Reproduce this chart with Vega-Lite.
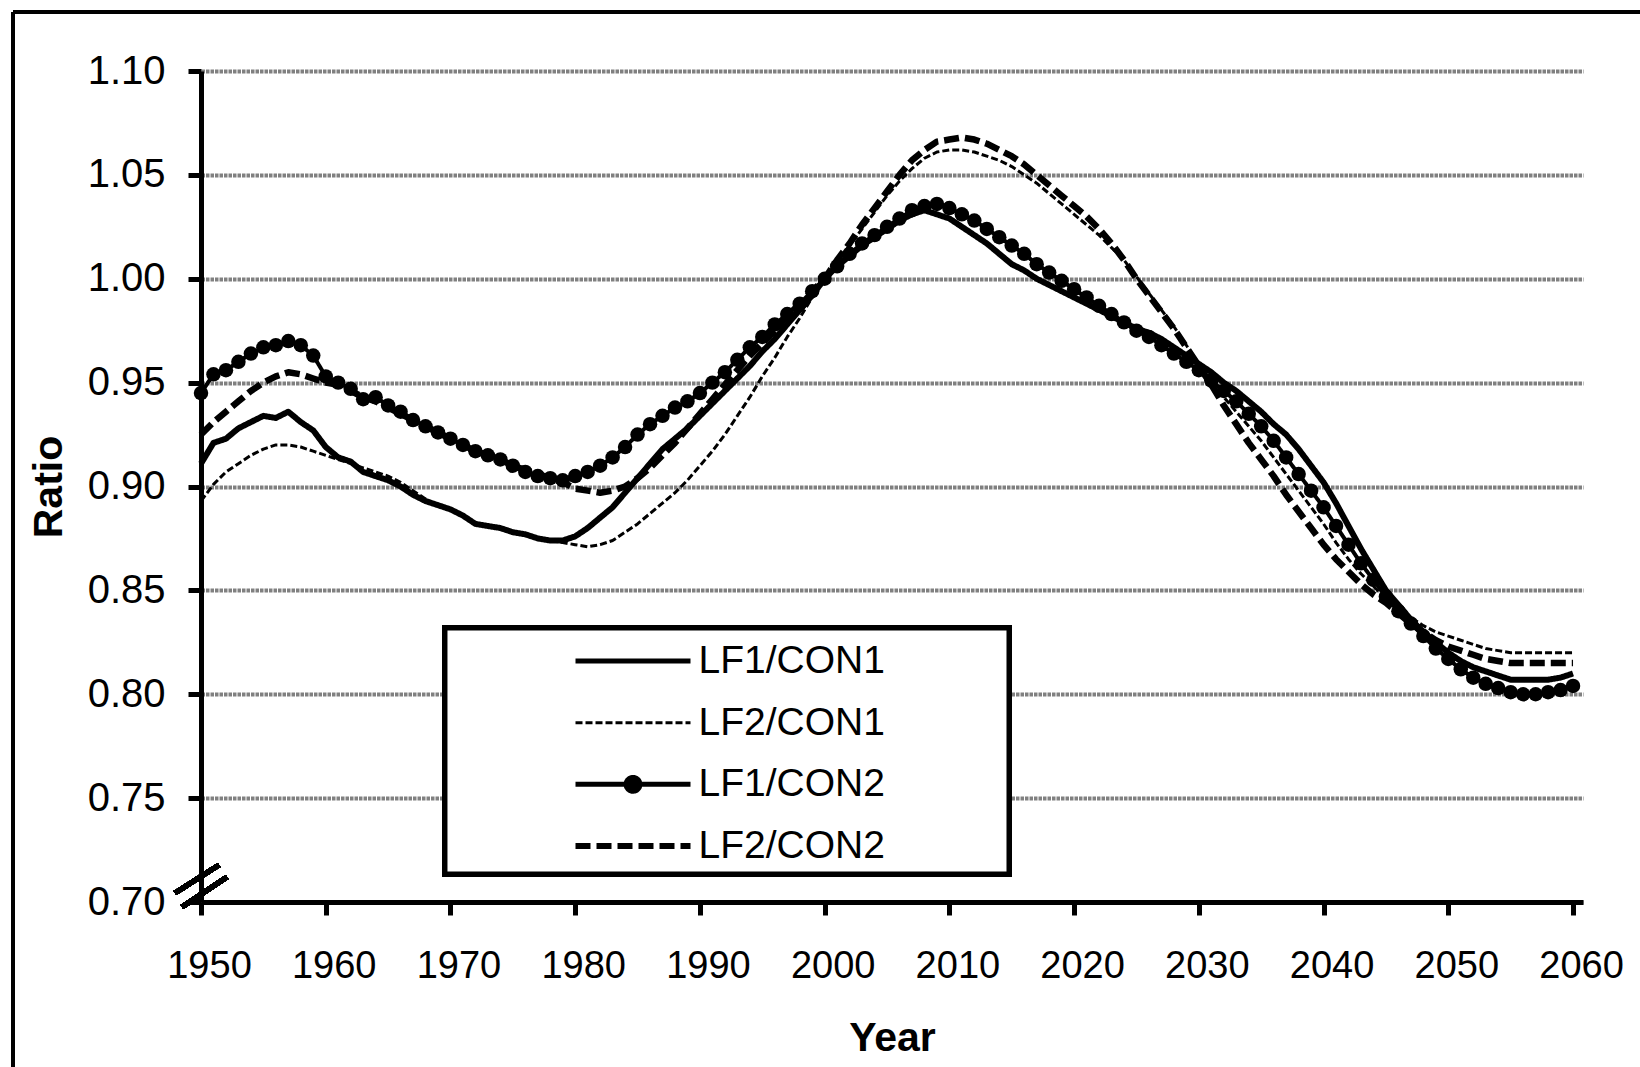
{
  "$schema": "https://vega.github.io/schema/vega-lite/v6.json",
  "width": 1382,
  "height": 831,
  "autosize": {"type": "none"},
  "padding": {"left": 201, "top": 71, "right": 57, "bottom": 165},
  "background": "white",
  "config": {
    "font": "Liberation Sans",
    "view": {"stroke": null},
    "axis": {
      "labelFont": "Liberation Sans",
      "labelColor": "black",
      "labelFontSize": 38,
      "titleFont": "Liberation Sans",
      "titleColor": "black",
      "titleFontSize": 41,
      "titleFontWeight": "bold",
      "domainColor": "black",
      "domainWidth": 5,
      "tickColor": "black",
      "tickWidth": 5,
      "tickSize": 13
    }
  },
  "data": {
    "values": [
      {"year": 1950, "LF1/CON1": 0.911, "LF2/CON1": 0.893, "LF1/CON2": 0.945, "LF2/CON2": 0.925},
      {"year": 1951, "LF1/CON1": 0.921, "LF2/CON1": 0.901, "LF1/CON2": 0.954, "LF2/CON2": 0.931},
      {"year": 1952, "LF1/CON1": 0.923, "LF2/CON1": 0.907, "LF1/CON2": 0.956, "LF2/CON2": 0.936},
      {"year": 1953, "LF1/CON1": 0.928, "LF2/CON1": 0.911, "LF1/CON2": 0.960, "LF2/CON2": 0.941},
      {"year": 1954, "LF1/CON1": 0.931, "LF2/CON1": 0.915, "LF1/CON2": 0.964, "LF2/CON2": 0.946},
      {"year": 1955, "LF1/CON1": 0.934, "LF2/CON1": 0.918, "LF1/CON2": 0.967, "LF2/CON2": 0.950},
      {"year": 1956, "LF1/CON1": 0.933, "LF2/CON1": 0.920, "LF1/CON2": 0.968, "LF2/CON2": 0.953},
      {"year": 1957, "LF1/CON1": 0.936, "LF2/CON1": 0.920, "LF1/CON2": 0.970, "LF2/CON2": 0.955},
      {"year": 1958, "LF1/CON1": 0.931, "LF2/CON1": 0.919, "LF1/CON2": 0.968, "LF2/CON2": 0.954},
      {"year": 1959, "LF1/CON1": 0.927, "LF2/CON1": 0.917, "LF1/CON2": 0.963, "LF2/CON2": 0.952},
      {"year": 1960, "LF1/CON1": 0.919, "LF2/CON1": 0.915, "LF1/CON2": 0.953, "LF2/CON2": 0.950},
      {"year": 1961, "LF1/CON1": 0.914, "LF2/CON1": 0.913, "LF1/CON2": 0.950, "LF2/CON2": 0.949},
      {"year": 1962, "LF1/CON1": 0.912, "LF2/CON1": 0.911, "LF1/CON2": 0.947, "LF2/CON2": 0.946},
      {"year": 1963, "LF1/CON1": 0.907, "LF2/CON1": 0.909, "LF1/CON2": 0.942, "LF2/CON2": 0.943},
      {"year": 1964, "LF1/CON1": 0.905, "LF2/CON1": 0.907, "LF1/CON2": 0.943, "LF2/CON2": 0.941},
      {"year": 1965, "LF1/CON1": 0.903, "LF2/CON1": 0.905, "LF1/CON2": 0.939, "LF2/CON2": 0.938},
      {"year": 1966, "LF1/CON1": 0.900, "LF2/CON1": 0.902, "LF1/CON2": 0.936, "LF2/CON2": 0.935},
      {"year": 1967, "LF1/CON1": 0.896, "LF2/CON1": 0.898, "LF1/CON2": 0.932, "LF2/CON2": 0.932},
      {"year": 1968, "LF1/CON1": 0.893, "LF2/CON1": 0.894, "LF1/CON2": 0.929, "LF2/CON2": 0.929},
      {"year": 1969, "LF1/CON1": 0.891, "LF2/CON1": 0.891, "LF1/CON2": 0.926, "LF2/CON2": 0.926},
      {"year": 1970, "LF1/CON1": 0.889, "LF2/CON1": 0.889, "LF1/CON2": 0.923, "LF2/CON2": 0.923},
      {"year": 1971, "LF1/CON1": 0.886, "LF2/CON1": 0.886, "LF1/CON2": 0.920, "LF2/CON2": 0.920},
      {"year": 1972, "LF1/CON1": 0.882, "LF2/CON1": 0.882, "LF1/CON2": 0.917, "LF2/CON2": 0.917},
      {"year": 1973, "LF1/CON1": 0.881, "LF2/CON1": 0.881, "LF1/CON2": 0.915, "LF2/CON2": 0.915},
      {"year": 1974, "LF1/CON1": 0.880, "LF2/CON1": 0.880, "LF1/CON2": 0.913, "LF2/CON2": 0.913},
      {"year": 1975, "LF1/CON1": 0.878, "LF2/CON1": 0.878, "LF1/CON2": 0.910, "LF2/CON2": 0.910},
      {"year": 1976, "LF1/CON1": 0.877, "LF2/CON1": 0.877, "LF1/CON2": 0.907, "LF2/CON2": 0.908},
      {"year": 1977, "LF1/CON1": 0.875, "LF2/CON1": 0.875, "LF1/CON2": 0.905, "LF2/CON2": 0.906},
      {"year": 1978, "LF1/CON1": 0.874, "LF2/CON1": 0.874, "LF1/CON2": 0.904, "LF2/CON2": 0.904},
      {"year": 1979, "LF1/CON1": 0.874, "LF2/CON1": 0.873, "LF1/CON2": 0.903, "LF2/CON2": 0.902},
      {"year": 1980, "LF1/CON1": 0.876, "LF2/CON1": 0.872, "LF1/CON2": 0.905, "LF2/CON2": 0.899},
      {"year": 1981, "LF1/CON1": 0.880, "LF2/CON1": 0.871, "LF1/CON2": 0.907, "LF2/CON2": 0.898},
      {"year": 1982, "LF1/CON1": 0.885, "LF2/CON1": 0.872, "LF1/CON2": 0.910, "LF2/CON2": 0.897},
      {"year": 1983, "LF1/CON1": 0.890, "LF2/CON1": 0.874, "LF1/CON2": 0.914, "LF2/CON2": 0.898},
      {"year": 1984, "LF1/CON1": 0.897, "LF2/CON1": 0.878, "LF1/CON2": 0.919, "LF2/CON2": 0.900},
      {"year": 1985, "LF1/CON1": 0.904, "LF2/CON1": 0.882, "LF1/CON2": 0.925, "LF2/CON2": 0.904},
      {"year": 1986, "LF1/CON1": 0.911, "LF2/CON1": 0.887, "LF1/CON2": 0.930, "LF2/CON2": 0.909},
      {"year": 1987, "LF1/CON1": 0.918, "LF2/CON1": 0.892, "LF1/CON2": 0.934, "LF2/CON2": 0.915},
      {"year": 1988, "LF1/CON1": 0.923, "LF2/CON1": 0.897, "LF1/CON2": 0.938, "LF2/CON2": 0.921},
      {"year": 1989, "LF1/CON1": 0.928, "LF2/CON1": 0.903, "LF1/CON2": 0.941, "LF2/CON2": 0.928},
      {"year": 1990, "LF1/CON1": 0.934, "LF2/CON1": 0.910, "LF1/CON2": 0.945, "LF2/CON2": 0.935},
      {"year": 1991, "LF1/CON1": 0.940, "LF2/CON1": 0.917, "LF1/CON2": 0.950, "LF2/CON2": 0.942},
      {"year": 1992, "LF1/CON1": 0.946, "LF2/CON1": 0.925, "LF1/CON2": 0.955, "LF2/CON2": 0.949},
      {"year": 1993, "LF1/CON1": 0.952, "LF2/CON1": 0.934, "LF1/CON2": 0.961, "LF2/CON2": 0.956},
      {"year": 1994, "LF1/CON1": 0.958, "LF2/CON1": 0.943, "LF1/CON2": 0.967, "LF2/CON2": 0.963},
      {"year": 1995, "LF1/CON1": 0.965, "LF2/CON1": 0.953, "LF1/CON2": 0.972, "LF2/CON2": 0.969},
      {"year": 1996, "LF1/CON1": 0.971, "LF2/CON1": 0.962, "LF1/CON2": 0.978, "LF2/CON2": 0.975},
      {"year": 1997, "LF1/CON1": 0.978, "LF2/CON1": 0.972, "LF1/CON2": 0.983, "LF2/CON2": 0.982},
      {"year": 1998, "LF1/CON1": 0.985, "LF2/CON1": 0.981, "LF1/CON2": 0.988, "LF2/CON2": 0.988},
      {"year": 1999, "LF1/CON1": 0.992, "LF2/CON1": 0.991, "LF1/CON2": 0.994, "LF2/CON2": 0.994},
      {"year": 2000, "LF1/CON1": 1.000, "LF2/CON1": 1.000, "LF1/CON2": 1.000, "LF2/CON2": 1.000},
      {"year": 2001, "LF1/CON1": 1.006, "LF2/CON1": 1.008, "LF1/CON2": 1.006, "LF2/CON2": 1.009},
      {"year": 2002, "LF1/CON1": 1.011, "LF2/CON1": 1.016, "LF1/CON2": 1.012, "LF2/CON2": 1.017},
      {"year": 2003, "LF1/CON1": 1.016, "LF2/CON1": 1.024, "LF1/CON2": 1.017, "LF2/CON2": 1.026},
      {"year": 2004, "LF1/CON1": 1.020, "LF2/CON1": 1.032, "LF1/CON2": 1.021, "LF2/CON2": 1.034},
      {"year": 2005, "LF1/CON1": 1.024, "LF2/CON1": 1.040, "LF1/CON2": 1.025, "LF2/CON2": 1.042},
      {"year": 2006, "LF1/CON1": 1.028, "LF2/CON1": 1.047, "LF1/CON2": 1.029, "LF2/CON2": 1.050},
      {"year": 2007, "LF1/CON1": 1.031, "LF2/CON1": 1.053, "LF1/CON2": 1.033, "LF2/CON2": 1.057},
      {"year": 2008, "LF1/CON1": 1.033, "LF2/CON1": 1.058, "LF1/CON2": 1.035, "LF2/CON2": 1.062},
      {"year": 2009, "LF1/CON1": 1.031, "LF2/CON1": 1.061, "LF1/CON2": 1.036, "LF2/CON2": 1.066},
      {"year": 2010, "LF1/CON1": 1.029, "LF2/CON1": 1.062, "LF1/CON2": 1.034, "LF2/CON2": 1.067},
      {"year": 2011, "LF1/CON1": 1.025, "LF2/CON1": 1.062, "LF1/CON2": 1.031, "LF2/CON2": 1.068},
      {"year": 2012, "LF1/CON1": 1.021, "LF2/CON1": 1.061, "LF1/CON2": 1.028, "LF2/CON2": 1.067},
      {"year": 2013, "LF1/CON1": 1.017, "LF2/CON1": 1.059, "LF1/CON2": 1.024, "LF2/CON2": 1.065},
      {"year": 2014, "LF1/CON1": 1.012, "LF2/CON1": 1.057, "LF1/CON2": 1.020, "LF2/CON2": 1.062},
      {"year": 2015, "LF1/CON1": 1.007, "LF2/CON1": 1.054, "LF1/CON2": 1.016, "LF2/CON2": 1.059},
      {"year": 2016, "LF1/CON1": 1.004, "LF2/CON1": 1.050, "LF1/CON2": 1.012, "LF2/CON2": 1.055},
      {"year": 2017, "LF1/CON1": 1.000, "LF2/CON1": 1.046, "LF1/CON2": 1.007, "LF2/CON2": 1.050},
      {"year": 2018, "LF1/CON1": 0.997, "LF2/CON1": 1.041, "LF1/CON2": 1.003, "LF2/CON2": 1.045},
      {"year": 2019, "LF1/CON1": 0.994, "LF2/CON1": 1.036, "LF1/CON2": 0.999, "LF2/CON2": 1.040},
      {"year": 2020, "LF1/CON1": 0.991, "LF2/CON1": 1.031, "LF1/CON2": 0.995, "LF2/CON2": 1.035},
      {"year": 2021, "LF1/CON1": 0.988, "LF2/CON1": 1.026, "LF1/CON2": 0.991, "LF2/CON2": 1.030},
      {"year": 2022, "LF1/CON1": 0.985, "LF2/CON1": 1.021, "LF1/CON2": 0.987, "LF2/CON2": 1.024},
      {"year": 2023, "LF1/CON1": 0.982, "LF2/CON1": 1.015, "LF1/CON2": 0.983, "LF2/CON2": 1.017},
      {"year": 2024, "LF1/CON1": 0.979, "LF2/CON1": 1.009, "LF1/CON2": 0.979, "LF2/CON2": 1.009},
      {"year": 2025, "LF1/CON1": 0.976, "LF2/CON1": 1.001, "LF1/CON2": 0.975, "LF2/CON2": 1.000},
      {"year": 2026, "LF1/CON1": 0.974, "LF2/CON1": 0.993, "LF1/CON2": 0.972, "LF2/CON2": 0.992},
      {"year": 2027, "LF1/CON1": 0.971, "LF2/CON1": 0.985, "LF1/CON2": 0.968, "LF2/CON2": 0.984},
      {"year": 2028, "LF1/CON1": 0.967, "LF2/CON1": 0.977, "LF1/CON2": 0.964, "LF2/CON2": 0.976},
      {"year": 2029, "LF1/CON1": 0.963, "LF2/CON1": 0.968, "LF1/CON2": 0.960, "LF2/CON2": 0.967},
      {"year": 2030, "LF1/CON1": 0.959, "LF2/CON1": 0.959, "LF1/CON2": 0.956, "LF2/CON2": 0.958},
      {"year": 2031, "LF1/CON1": 0.955, "LF2/CON1": 0.951, "LF1/CON2": 0.951, "LF2/CON2": 0.949},
      {"year": 2032, "LF1/CON1": 0.950, "LF2/CON1": 0.943, "LF1/CON2": 0.946, "LF2/CON2": 0.939},
      {"year": 2033, "LF1/CON1": 0.946, "LF2/CON1": 0.936, "LF1/CON2": 0.941, "LF2/CON2": 0.930},
      {"year": 2034, "LF1/CON1": 0.941, "LF2/CON1": 0.929, "LF1/CON2": 0.935, "LF2/CON2": 0.921},
      {"year": 2035, "LF1/CON1": 0.936, "LF2/CON1": 0.922, "LF1/CON2": 0.929, "LF2/CON2": 0.913},
      {"year": 2036, "LF1/CON1": 0.930, "LF2/CON1": 0.914, "LF1/CON2": 0.922, "LF2/CON2": 0.905},
      {"year": 2037, "LF1/CON1": 0.925, "LF2/CON1": 0.906, "LF1/CON2": 0.914, "LF2/CON2": 0.896},
      {"year": 2038, "LF1/CON1": 0.918, "LF2/CON1": 0.898, "LF1/CON2": 0.906, "LF2/CON2": 0.888},
      {"year": 2039, "LF1/CON1": 0.910, "LF2/CON1": 0.890, "LF1/CON2": 0.898, "LF2/CON2": 0.880},
      {"year": 2040, "LF1/CON1": 0.902, "LF2/CON1": 0.882, "LF1/CON2": 0.890, "LF2/CON2": 0.872},
      {"year": 2041, "LF1/CON1": 0.892, "LF2/CON1": 0.873, "LF1/CON2": 0.881, "LF2/CON2": 0.865},
      {"year": 2042, "LF1/CON1": 0.881, "LF2/CON1": 0.865, "LF1/CON2": 0.872, "LF2/CON2": 0.859},
      {"year": 2043, "LF1/CON1": 0.870, "LF2/CON1": 0.858, "LF1/CON2": 0.863, "LF2/CON2": 0.853},
      {"year": 2044, "LF1/CON1": 0.860, "LF2/CON1": 0.852, "LF1/CON2": 0.855, "LF2/CON2": 0.848},
      {"year": 2045, "LF1/CON1": 0.850, "LF2/CON1": 0.846, "LF1/CON2": 0.847, "LF2/CON2": 0.844},
      {"year": 2046, "LF1/CON1": 0.843, "LF2/CON1": 0.841, "LF1/CON2": 0.840, "LF2/CON2": 0.839},
      {"year": 2047, "LF1/CON1": 0.836, "LF2/CON1": 0.837, "LF1/CON2": 0.834, "LF2/CON2": 0.834},
      {"year": 2048, "LF1/CON1": 0.830, "LF2/CON1": 0.833, "LF1/CON2": 0.828, "LF2/CON2": 0.830},
      {"year": 2049, "LF1/CON1": 0.825, "LF2/CON1": 0.830, "LF1/CON2": 0.822, "LF2/CON2": 0.826},
      {"year": 2050, "LF1/CON1": 0.820, "LF2/CON1": 0.828, "LF1/CON2": 0.817, "LF2/CON2": 0.823},
      {"year": 2051, "LF1/CON1": 0.816, "LF2/CON1": 0.826, "LF1/CON2": 0.812, "LF2/CON2": 0.821},
      {"year": 2052, "LF1/CON1": 0.813, "LF2/CON1": 0.824, "LF1/CON2": 0.808, "LF2/CON2": 0.819},
      {"year": 2053, "LF1/CON1": 0.811, "LF2/CON1": 0.822, "LF1/CON2": 0.805, "LF2/CON2": 0.817},
      {"year": 2054, "LF1/CON1": 0.809, "LF2/CON1": 0.821, "LF1/CON2": 0.803, "LF2/CON2": 0.816},
      {"year": 2055, "LF1/CON1": 0.807, "LF2/CON1": 0.820, "LF1/CON2": 0.801, "LF2/CON2": 0.815},
      {"year": 2056, "LF1/CON1": 0.807, "LF2/CON1": 0.820, "LF1/CON2": 0.800, "LF2/CON2": 0.815},
      {"year": 2057, "LF1/CON1": 0.807, "LF2/CON1": 0.820, "LF1/CON2": 0.800, "LF2/CON2": 0.815},
      {"year": 2058, "LF1/CON1": 0.807, "LF2/CON1": 0.820, "LF1/CON2": 0.801, "LF2/CON2": 0.815},
      {"year": 2059, "LF1/CON1": 0.808, "LF2/CON1": 0.820, "LF1/CON2": 0.802, "LF2/CON2": 0.815},
      {"year": 2060, "LF1/CON1": 0.810, "LF2/CON1": 0.820, "LF1/CON2": 0.804, "LF2/CON2": 0.815}
    ]
  },
  "layer": [
    {
      "mark": {"type": "rule", "color": "black", "strokeWidth": 3.5},
      "encoding": {
        "x": {"datum": 1934.93, "type": "quantitative"},
        "y": {"datum": 1.1284, "type": "quantitative"},
        "y2": {"datum": 0.5}
      }
    },
    {
      "mark": {"type": "rule", "color": "black", "strokeWidth": 3.5},
      "encoding": {
        "x": {"datum": 1934.93, "type": "quantitative"},
        "x2": {"datum": 2090},
        "y": {"datum": 1.1284, "type": "quantitative"}
      }
    },
    {
      "mark": {"type": "rect", "fill": "white", "stroke": "black", "strokeWidth": 5},
      "encoding": {
        "x": {"datum": 1969.56, "type": "quantitative"},
        "x2": {"datum": 2014.78},
        "y": {"datum": 0.8319, "type": "quantitative"},
        "y2": {"datum": 0.71348}
      }
    },
    {
      "transform": [{"fold": ["LF1/CON1", "LF2/CON1", "LF1/CON2", "LF2/CON2"], "as": ["series", "ratio"]}],
      "mark": {"type": "line", "color": "black", "strokeJoin": "round", "strokeCap": "butt"},
      "encoding": {
        "x": {
          "field": "year",
          "type": "quantitative",
          "scale": {"domain": [1950, 2060.8], "nice": false, "zero": false},
          "axis": {
            "title": "Year",
            "values": [1950, 1960, 1970, 1980, 1990, 2000, 2010, 2020, 2030, 2040, 2050, 2060],
            "format": "d",
            "grid": false,
            "labelPadding": 32,
            "labelOffset": 8,
            "labelFlush": false,
            "labelOverlap": false,
            "titleY": 148,
            "titleBaseline": "alphabetic"
          }
        },
        "y": {
          "field": "ratio",
          "type": "quantitative",
          "scale": {"domain": [0.7, 1.1], "nice": false, "zero": false},
          "axis": {
            "title": "Ratio",
            "values": [0.7, 0.75, 0.8, 0.85, 0.9, 0.95, 1.0, 1.05, 1.1],
            "format": ".2f",
            "grid": true,
            "gridColor": "#808080",
            "gridWidth": 4,
            "gridDash": [3.5, 1],
            "labelFontSize": 40,
            "labelPadding": 23,
            "labelFlush": false,
            "labelOverlap": false,
            "titleX": -140,
            "titleBaseline": "alphabetic",
            "titleAngle": -90
          }
        },
        "strokeDash": {
          "field": "series",
          "type": "nominal",
          "scale": {
            "domain": ["LF1/CON1", "LF2/CON1", "LF1/CON2", "LF2/CON2"],
            "range": [[1, 0], [7, 3], [1, 0], [15, 6]]
          },
          "legend": {
            "title": null,
            "orient": "none",
            "legendX": 256,
            "legendY": 570.5,
            "direction": "vertical",
            "strokeColor": null,
            "fillColor": null,
            "padding": 0,
            "rowPadding": 21.67,
            "symbolType": "stroke",
            "symbolSize": 529,
            "symbolStrokeColor": "black",
            "symbolOffset": 156.5,
            "labelOffset": 46,
            "labelFont": "Liberation Sans",
            "labelFontSize": 39,
            "labelColor": "black",
            "labelLimit": 0,
            "encode": {
              "symbols": {
                "update": {
                  "shape": {"signal": "datum.value === 'LF1/CON2' ? 'M-5,0H5M-0.6,0A0.6,0.6,0,1,1,0.6,0A0.6,0.6,0,1,1,-0.6,0Z' : 'M-5,0H5'"},
                  "strokeWidth": {"signal": "datum.value === 'LF2/CON1' ? 3 : (datum.value === 'LF2/CON2' ? 6 : 5)"},
                  "fill": {"value": "black"},
                  "stroke": {"value": "black"},
                  "opacity": {"value": 1}
                }
              }
            }
          }
        },
        "strokeWidth": {
          "condition": [
            {"test": "datum.series === 'LF2/CON1'", "value": 3},
            {"test": "datum.series === 'LF2/CON2'", "value": 6.5},
            {"test": "datum.series === 'LF1/CON2'", "value": 4}
          ],
          "value": 6
        }
      }
    },
    {
      "transform": [
        {"fold": ["LF1/CON1", "LF2/CON1", "LF1/CON2", "LF2/CON2"], "as": ["series", "ratio"]},
        {"filter": "datum.series === 'LF1/CON2'"}
      ],
      "mark": {"type": "point", "shape": "circle", "filled": true, "color": "black", "opacity": 1, "size": 210},
      "encoding": {
        "x": {"field": "year", "type": "quantitative"},
        "y": {"field": "ratio", "type": "quantitative"}
      }
    },
    {
      "mark": {"type": "rule", "color": "black", "strokeWidth": 5},
      "encoding": {
        "x": {"datum": 1947.92, "type": "quantitative"},
        "x2": {"datum": 1951.44},
        "y": {"datum": 0.70433, "type": "quantitative"},
        "y2": {"datum": 0.71781}
      }
    },
    {
      "mark": {"type": "rule", "color": "black", "strokeWidth": 5},
      "encoding": {
        "x": {"datum": 1948.48, "type": "quantitative"},
        "x2": {"datum": 1952.08},
        "y": {"datum": 0.69759, "type": "quantitative"},
        "y2": {"datum": 0.71203}
      }
    }
  ]
}
